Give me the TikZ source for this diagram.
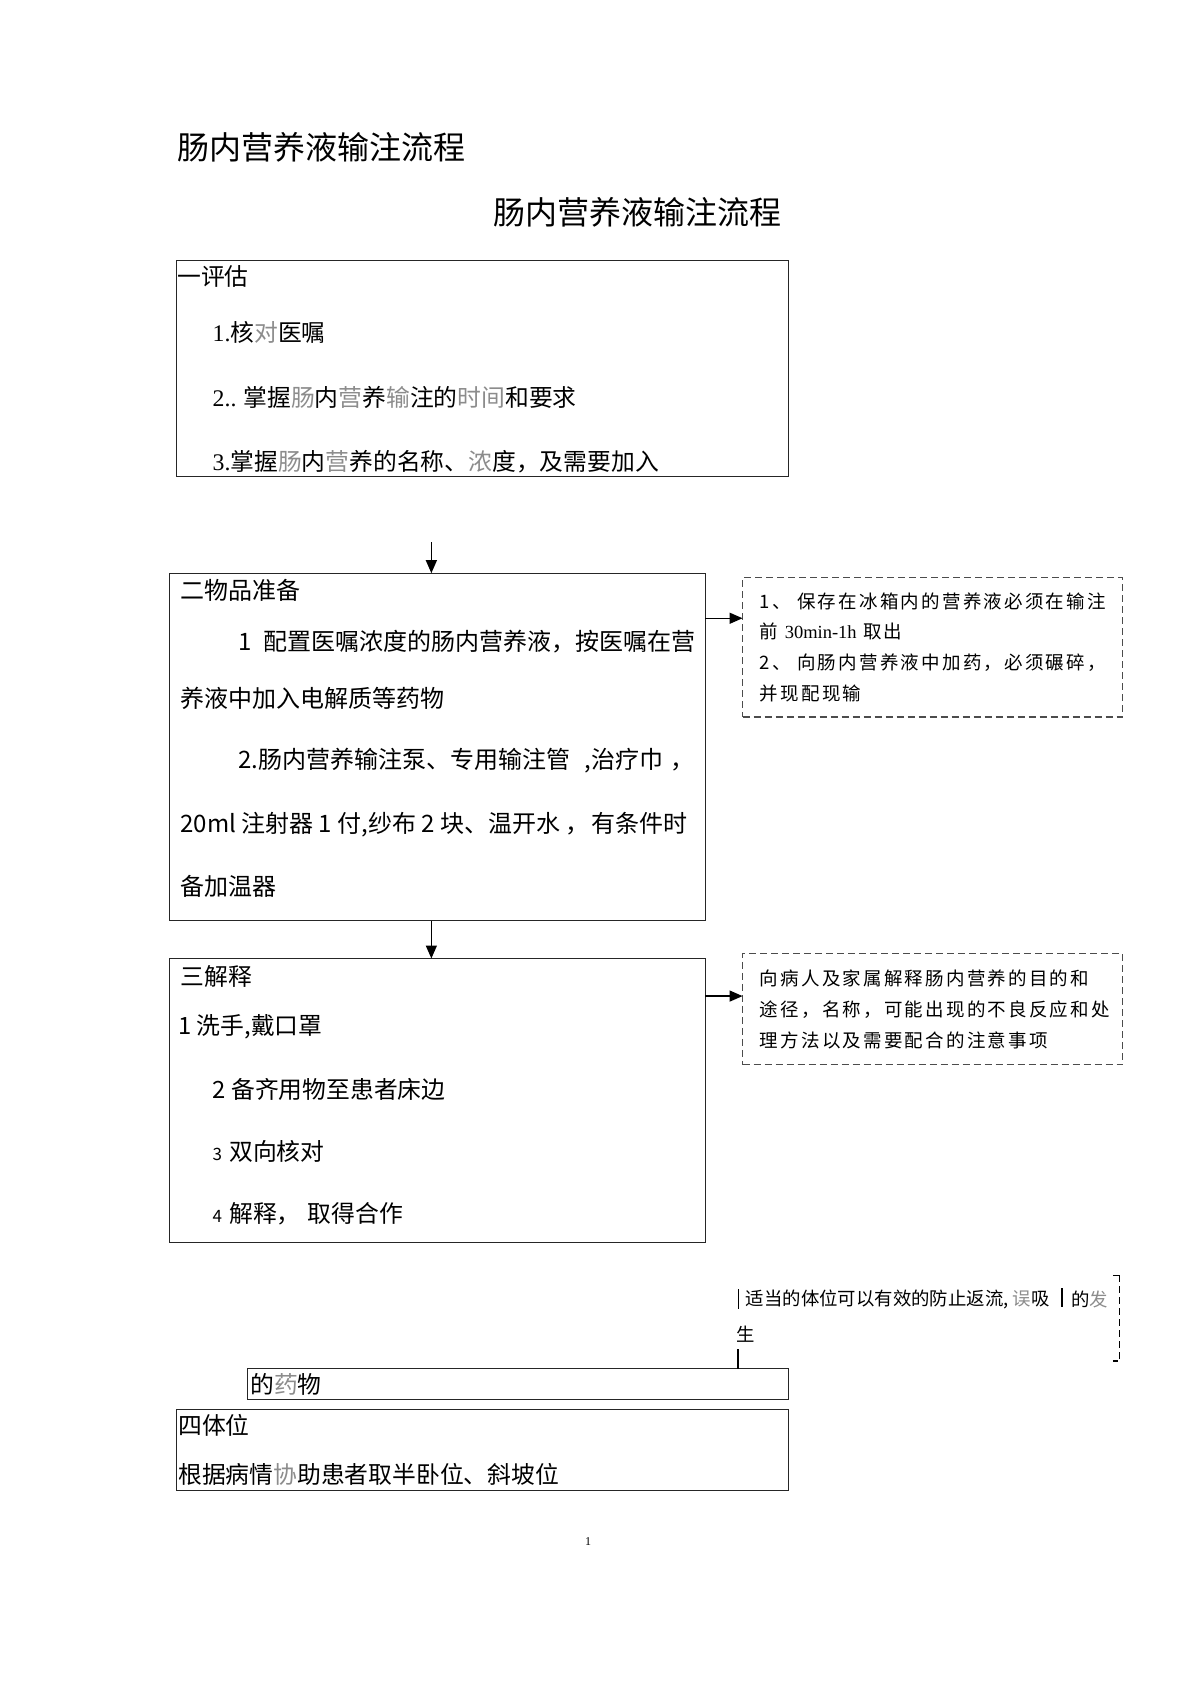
\documentclass[tikz,border=0pt]{standalone}
\usepackage{fontspec}
\setmainfont{Noto Sans CJK SC}
\newfontfamily\cjkls[LetterSpace=12]{Noto Sans CJK SC}
\newfontfamily\lser{Liberation Serif}
\usetikzlibrary{arrows.meta,fit,calc}
\newcommand{\gr}[1]{{\color{black!45}#1}}
\tikzset{
  box/.style={draw=black!85, line width=0.9pt, inner sep=0pt, outer sep=0pt},
  dbox/.style={draw=black!70, line width=1.1pt, dash pattern=on 7pt off 4pt, inner sep=0pt, outer sep=0pt},
  title/.style={anchor=west, inner sep=0pt, font=\fontsize{32}{36}\selectfont},
  tx/.style={anchor=west, inner sep=0pt, font=\fontsize{23.8}{28}\selectfont},
  tm/.style={anchor=west, inner sep=0pt, font=\fontsize{24}{28}\selectfont},
  ts/.style={anchor=west, inner sep=0pt, font=\cjkls\fontsize{18.5}{22}\selectfont, text=black},
  tn/.style={anchor=west, inner sep=0pt, font=\fontsize{18.4}{22}\selectfont},
  arr/.style={draw=black, line width=1.4pt, -{Triangle[length=13pt,width=11pt]}},
}
\begin{document}
\begin{tikzpicture}[x=1.07304pt, y=-1.07334pt]
\useasboundingbox (0,0) rectangle (1109,1568);

% titles
\node[title] (t1) at (165,137) {肠内营养液输注流程};
\node[title] (t2) at (460,198) {肠内营养液输注流程};

% box 1
\node[box, fit={(164,243) (735,444)}] (b1) {};
\node[tx] (b1h) at (165,258) {一评估};
\node[tx] (b1a) at (198,310) {{\lser 1.}核\gr{对}医嘱};
\node[tx] (b1b) at (198,370) {{\lser 2..} 掌握\gr{肠}内\gr{营}养\gr{输}注的\gr{时间}和要求};
\node[tx] (b1c) at (198,430) {{\lser 3.}掌握\gr{肠}内\gr{营}养的名称、\gr{浓}度，及需要加入};

% box 2
\node[box, fit={(158,534) (657,858)}] (b2) {};
\node[tm] (b2h) at (168,550) {二物品准备};
\node[tm] (b2a) at (222,598) {1\hspace{0.5em}配置医嘱浓度的肠内营养液，按医嘱在营};
\node[tm] (b2b) at (168,651) {养液中加入电解质等药物};
\node[tm] (b2c) at (222,709) {2.肠内营养输注泵、专用输注管\hspace{0.6em},治疗巾\hspace{0.3em}，};
\node[tm] (b2d) at (168,768) {20ml 注射器 1 付,纱布 2 块、温开水\hspace{0.2em}，\hspace{0.1em}有条件时};
\node[tm] (b2e) at (168,826) {备加温器};

% box 3
\node[box, fit={(158,893) (657,1158)}] (b3) {};
\node[tx] (b3h) at (168,910) {三解释};
\node[tx] (b3a) at (166,957) {1 洗手,戴口罩};
\node[tx] (b3b) at (198,1015) {2 备齐用物至患者床边};
\node[tx] (b3c) at (198,1073) {{\fontsize{17}{20}\selectfont 3}\hspace{0.3em}双向核对};
\node[tx] (b3d) at (198,1131) {{\fontsize{17}{20}\selectfont 4}\hspace{0.3em}解释，\hspace{0.3em}取得合作};

% dashed box 1
\node[dbox, fit={(692,538) (1046,668)}] (d1) {};
\node[ts] (d1a) at (708,560) {1、 保存在冰箱内的营养液必须在输注};
\node[ts] (d1b) at (708,588) {前 {\lser 30min-1h} 取出};
\node[ts] (d1c) at (708,617) {2、 向肠内营养液中加药，必须碾碎，};
\node[ts] (d1d) at (708,646) {并现配现输};

% dashed box 2
\node[dbox, fit={(692,888) (1046,992)}] (d2) {};
\node[ts] (d2a) at (708,912) {向病人及家属解释肠内营养的目的和};
\node[ts] (d2b) at (708,941) {途径，名称，可能出现的不良反应和处};
\node[ts] (d2c) at (708,969) {理方法以及需要配合的注意事项};

% connectors
\coordinate (a1) at (402,505);
\draw[arr] (a1) -- (a1 |- b2.north);
\draw[arr] (b2.south -| a1) -- (b3.north -| a1);
\coordinate (y1) at (0,576);
\draw[arr] (b2.east |- y1) -- (d1.west |- y1);
\coordinate (y2) at (0,928);
\draw[arr] (b3.east |- y2) -- (d2.west |- y2);

% bottom note
\draw[line width=0.9pt] (688,1201) -- (688,1220);
\node[tn] (n1) at (695,1211) {适当的体位可以有效的防止返流, \gr{误}吸};
\draw[line width=2.2pt] (990,1200) -- (990,1218);
\node[tn] (n2) at (998,1211) {的\gr{发}};
\node[tn] (n3) at (686,1243) {生};
\draw[line width=0.9pt] (1037,1188) -- (1043,1188);
\draw[line width=1.1pt, dash pattern=on 7pt off 4pt] (1043,1188) -- (1043,1268);
\draw[line width=1.8pt] (1037,1268) -- (1042,1268);

% box 5 (的药物)
\node[box, fit={(231,1275) (735,1304)}] (b5) {};
\node[tx] (b5t) at (233,1290) {的\gr{药}物};
\coordinate (c5) at (688,1257);
\draw[line width=1.6pt] (c5) -- (c5 |- b5.north);

% box 6
\node[box, fit={(164,1313) (735,1389)}] (b6) {};
\node[tx] (b6h) at (166,1328) {四体位};
\node[tx] (b6a) at (166,1374) {根据病情\gr{协}助患者取半卧位、斜坡位};

% page number
\node[inner sep=0pt, font=\lser\fontsize{12}{14}\selectfont] (pg) at (548,1436) {1};
\end{tikzpicture}
\end{document}
